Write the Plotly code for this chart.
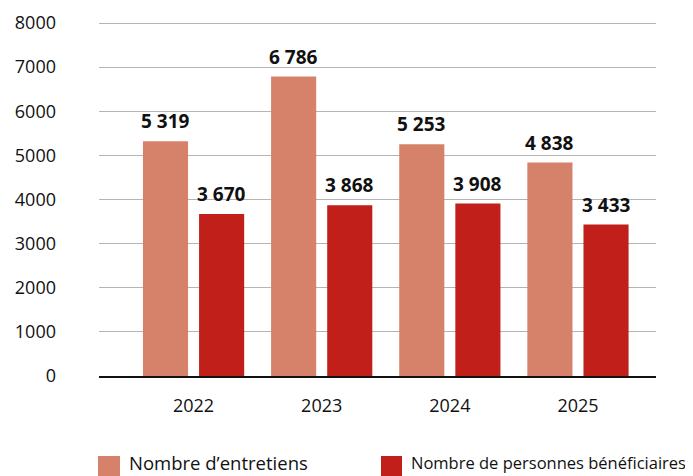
import plotly.graph_objects as go

years = ["2022", "2023", "2024", "2025"]
entretiens = [5319, 6786, 5253, 4838]
beneficiaires = [3670, 3868, 3908, 3433]
series_names = ["Nombre d\u2019entretiens", "Nombre de personnes bénéficiaires"]
colors = ["#D6826A", "#C01F1A"]
y_ticks = [0, 1000, 2000, 3000, 4000, 5000, 6000, 7000, 8000]

FONT = "Open Sans"

def fmt(v):
    return f"{v:,}".replace(",", " ")

fig = go.Figure()
bar_w = 0.352
offsets = [-0.395, 0.043]
for name, vals, col, off in zip(series_names, [entretiens, beneficiaires], colors, offsets):
    fig.add_trace(go.Bar(
        x=years, y=vals, name=name, marker=dict(color=col, line=dict(width=0)),
        width=bar_w, offset=off, showlegend=False,
    ))

annotations = []
for vals, off in zip([entretiens, beneficiaires], offsets):
    for i, v in enumerate(vals):
        annotations.append(dict(
            x=i + off + bar_w / 2, y=v, xref="x", yref="y", text=fmt(v),
            showarrow=False, yanchor="bottom", yshift=5,
            font=dict(family=FONT, size=19, color="#111111", weight="bold"),
        ))

# plot area in page pixels: x 99..656, y 0 at 376, 8000 at 23
Y_TOP = 8068
PX_PER = 353.0 / 8000
top_px = 376 - Y_TOP * PX_PER
W, H = 557.0, 376 - top_px
def px_x(p):
    return (p - 99) / W
def px_y(p):
    return (376 - p) / H

shapes = []
leg = [(98, 120, 127, 18.5), (381, 402, 409, 16.5)]
for (x0, x1, tx, fs), name, col in zip(leg, series_names, colors):
    shapes.append(dict(type="rect", xref="paper", yref="paper",
                       x0=px_x(x0), x1=px_x(x1), y0=px_y(456), y1=px_y(478),
                       fillcolor=col, line=dict(width=0)))
    annotations.append(dict(
        x=px_x(tx), y=px_y(463), xref="paper", yref="paper", text=name,
        showarrow=False, xanchor="left", yanchor="middle",
        font=dict(family=FONT, size=fs, color="#111111"),
    ))

# page body has an 8px margin
fig.update_layout(
    width=693, height=476,
    margin=dict(l=91, r=45, t=top_px - 8, b=108),
    plot_bgcolor="white", paper_bgcolor="white",
    barmode="overlay",
    font=dict(family=FONT, size=18, color="#111111"),
    xaxis=dict(
        type="category", range=[-0.738, 3.609], automargin=False,
        showgrid=False, showline=True, linecolor="#111111", linewidth=2,
        ticks="", tickfont=dict(size=18), ticklabelstandoff=12,
    ),
    yaxis=dict(
        range=[0, Y_TOP], tickvals=y_ticks, ticktext=[str(t) for t in y_ticks],
        automargin=False,
        showgrid=True, gridcolor="#B4B4B4", gridwidth=1,
        zeroline=False, showline=False, ticks="",
        ticklabelstandoff=42, tickfont=dict(size=18),
    ),
    shapes=shapes,
    annotations=annotations,
)

fig.write_html("out.html")
